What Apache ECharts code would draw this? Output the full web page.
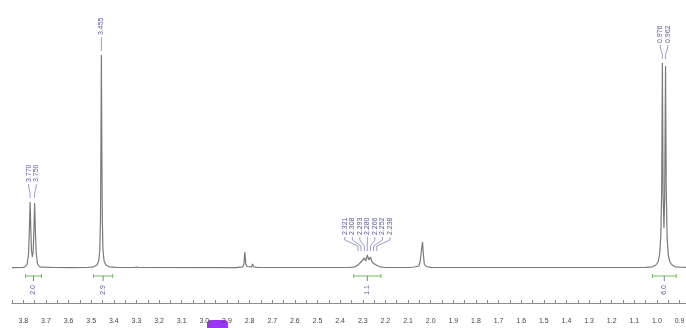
<!DOCTYPE html>
<html>
<head>
<meta charset="utf-8">
<script src="https://cdn.jsdelivr.net/npm/echarts@6/dist/echarts.min.js"></script>
<style>
    html, body { margin: 0; padding: 0; background: #fff; }
    #chart { width: 686px; height: 328px; }
</style>
</head>
<body>
<div id="chart"></div>
<script>
// 谱线 (化学位移 ppm / 强度)
const shiftPpm = [
    3.85, 3.80, 3.79, 3.783, 3.777, 3.773, 3.770, 3.767, 3.764, 3.760, 3.756, 3.753, 3.750, 3.747, 3.743, 3.737, 3.73, 3.72, 3.66,
    3.592, 3.590, 3.588,
    3.52, 3.49, 3.475, 3.467, 3.462, 3.459, 3.457, 3.455, 3.453, 3.451, 3.448, 3.443, 3.435, 3.42, 3.39,
    3.31, 3.30, 3.29,
    2.86, 2.83, 2.825, 2.821, 2.817, 2.812, 2.792, 2.787, 2.783, 2.76,
    2.36, 2.335, 2.321, 2.315, 2.308, 2.300, 2.293, 2.287, 2.280, 2.273, 2.266, 2.259, 2.252, 2.245, 2.238, 2.225, 2.20,
    2.09, 2.073, 2.069, 2.065, 2.052, 2.046, 2.041, 2.036, 2.032, 2.028, 2.02, 2.00,
    1.80, 1.05, 1.02, 1.005, 0.995, 0.988, 0.983, 0.979, 0.976, 0.973, 0.969, 0.966, 0.962, 0.959, 0.955, 0.950, 0.943, 0.933, 0.92, 0.90, 0.85
];
const intensity = [
    0.4, 0.6, 1.5, 4, 14, 40, 66, 40, 18, 11, 18, 40, 65, 40, 14, 4, 1.5, 0.8, 0.5,
    0.4, 1.5, 0.4,
    0.5, 1.2, 3, 7, 18, 50, 120, 213, 120, 50, 18, 7, 3, 1.2, 0.6,
    0.5, 1, 0.5,
    0.4, 1.2, 4, 16, 4, 1.5, 1.2, 4, 1.2, 0.5,
    0.5, 1.2, 3, 2.2, 6, 4.5, 10, 7, 13, 8, 11, 6, 7, 3.5, 3, 1.2, 0.5,
    0.5, 1, 3, 1, 2, 7, 17, 26, 13, 4, 1.5, 0.6,
    0.5, 0.6, 1.2, 3, 6, 14, 32, 80, 205, 75, 40, 70, 202, 78, 30, 13, 6, 3, 1.2, 0.8, 0.6
];

// 峰标注
const peakGroups = [
    [3.770, 3.750],
    [3.455],
    [2.321, 2.308, 2.293, 2.280, 2.266, 2.252, 2.238],
    [0.976, 0.962]
];

// 积分区间与数值
const integralFrom = [3.79, 3.49, 2.34, 1.02];
const integralTo = [3.72, 3.405, 2.22, 0.915];
const integralValues = ['2.0', '2.9', '1.1', '6.0'];

const chart = echarts.init(document.getElementById('chart'), null, { renderer: 'canvas' });

const spectrum = shiftPpm.map((x, i) => [x, intensity[i]]);

chart.setOption({
    animation: false,
    backgroundColor: '#ffffff',
    grid: { left: 12, right: -4.9, top: 20, bottom: 25, outerBoundsMode: 'none', containLabel: false },
    xAxis: {
        type: 'value',
        inverse: true,
        min: 0.85,
        max: 3.85,
        interval: 0.05,
        splitLine: { show: false },
        axisLine: { onZero: false, lineStyle: { color: '#8c8c8c', width: 1 } },
        axisTick: { inside: true, length: 3, lineStyle: { color: '#8c8c8c' } },
        axisLabel: {
            margin: 15,
            fontSize: 7,
            fontFamily: 'Liberation Sans',
            color: '#444',
            formatter: (v) => Math.round(v * 100) % 10 === 0 ? v.toFixed(1) : ''
        }
    },
    yAxis: { type: 'value', min: -35, max: 248, show: false },
    series: [{
        type: 'line',
        data: spectrum,
        showSymbol: false,
        clip: false,
        lineStyle: { color: '#7a7a7a', width: 1.2 }
    }]
});

// 标注与积分
function buildGraphics() {
    const labelColor = '#5b5b9c';
    const els = [];
    const toPx = (x, y) => chart.convertToPixel({ gridIndex: 0 }, [x, y]);

    peakGroups.forEach(group => {
        const hi = Math.max(...group) + 0.006, lo = Math.min(...group) - 0.006;
        let topY = Infinity;
        spectrum.forEach(p => {
            if (p[0] <= hi && p[0] >= lo) topY = Math.min(topY, toPx(p[0], p[1])[1]);
        });
        const xs = group.map(v => toPx(v, 0)[0]);
        const cx = xs.reduce((a, b) => a + b, 0) / xs.length;
        const yb = topY - 20;
        group.forEach((v, i) => {
            const lx = cx + (i - (group.length - 1) / 2) * 7.5;
            els.push({
                type: 'text', x: lx, y: yb, rotation: Math.PI / 2,
                style: { text: v.toFixed(3), fontSize: 7, fontFamily: 'Liberation Sans', fill: labelColor, align: 'left', verticalAlign: 'middle' }
            });
            els.push({
                type: 'polyline',
                shape: { points: [[lx, yb + 2], [lx, yb + 5], [xs[i], yb + 11], [xs[i], yb + 16]] },
                style: { stroke: labelColor, lineWidth: 0.6, fill: null }
            });
        });
    });

    const baseY = toPx(1, 0)[1];
    integralFrom.forEach((a, i) => {
        const x1 = toPx(a, 0)[0], x2 = toPx(integralTo[i], 0)[0];
        const cx = (x1 + x2) / 2, by = baseY + 8;
        const green = '#6cbf5c';
        els.push({ type: 'line', shape: { x1: x1, y1: by, x2: x2, y2: by }, style: { stroke: green, lineWidth: 1 } });
        els.push({ type: 'line', shape: { x1: x1, y1: by - 2, x2: x1, y2: by + 2 }, style: { stroke: green, lineWidth: 1 } });
        els.push({ type: 'line', shape: { x1: x2, y1: by - 2, x2: x2, y2: by + 2 }, style: { stroke: green, lineWidth: 1 } });
        els.push({ type: 'line', shape: { x1: cx, y1: by, x2: cx, y2: by + 5 }, style: { stroke: labelColor, lineWidth: 0.8 } });
        els.push({
            type: 'text', x: cx, y: by + 9, rotation: Math.PI / 2,
            style: { text: integralValues[i], fontSize: 7, fontFamily: 'Liberation Sans', fill: labelColor, align: 'right', verticalAlign: 'middle' }
        });
    });

    // 底部紫色块
    els.push({ type: 'rect', shape: { x: 207, y: 320, width: 21, height: 14, r: 4 }, style: { fill: '#9b35f5' } });

    chart.setOption({ graphic: els });
}
buildGraphics();
</script>
</body>
</html>
